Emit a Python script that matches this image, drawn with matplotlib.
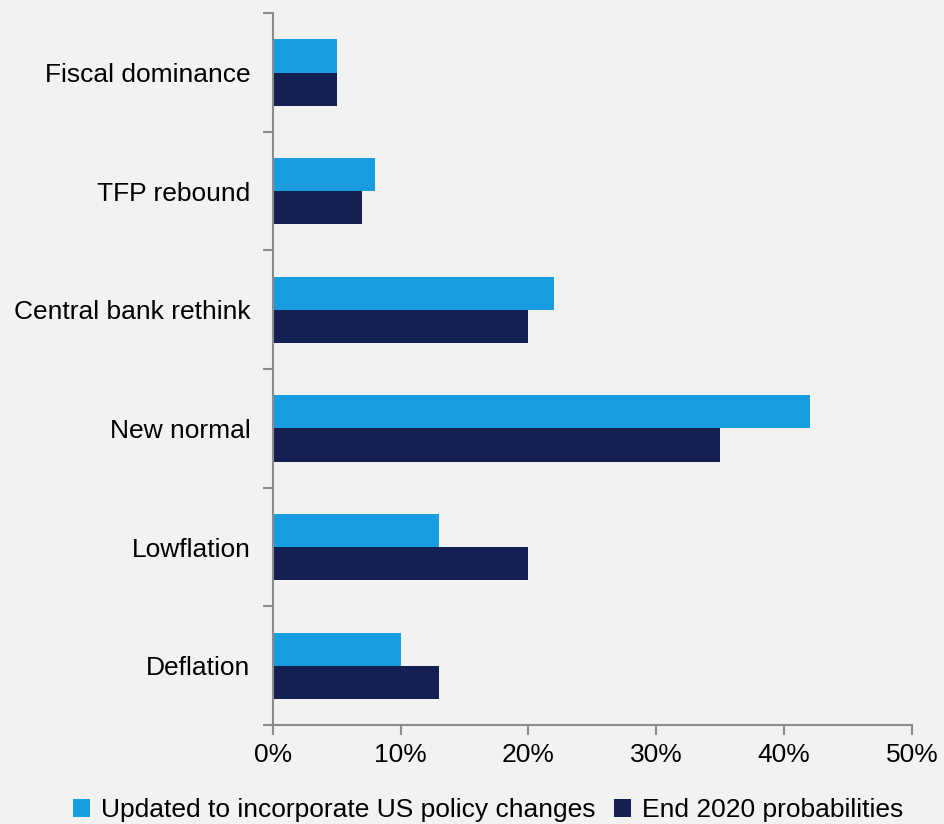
import numpy as np
import matplotlib.pyplot as plt

plt.rcParams['font.family'] = ['Liberation Sans', 'DejaVu Sans']

categories = ["Fiscal dominance", "TFP rebound", "Central bank rethink",
              "New normal", "Lowflation", "Deflation"]
updated = [5, 8, 22, 42, 13, 10]
end_2020 = [5, 7, 20, 35, 20, 13]
xticks = [0, 10, 20, 30, 40, 50]

c_light = "#1a9de0"
c_dark = "#141f52"
bg = "#f2f2f2"
spine_c = "#8c8c8c"

fig = plt.figure(figsize=(9.44, 8.24), dpi=100, facecolor=bg)
ax = fig.add_axes([0.289, 0.120, 0.677, 0.864], facecolor=bg)

n = len(categories)
y = np.arange(n)[::-1]
h = 0.28
ax.barh(y + h / 2, updated, height=h, color=c_light,
        label="Updated to incorporate US policy changes")
ax.barh(y - h / 2, end_2020, height=h, color=c_dark,
        label="End 2020 probabilities")

ax.set_xlim(0, 50)
ax.set_ylim(-0.5, n - 0.5)
ax.set_xticks(xticks)
ax.set_xticklabels([f"{v}%" for v in xticks])
ax.set_yticks(y)
ax.set_yticklabels(categories)
ax.set_yticks(np.arange(n + 1) - 0.5, minor=True)
ax.tick_params(axis='y', which='major', length=0, pad=16, labelsize=19)
ax.tick_params(axis='y', which='minor', length=7, width=1.5, color=spine_c)
ax.tick_params(axis='x', length=7, width=1.5, color=spine_c, labelsize=19, pad=6)

for s in ['top', 'right']:
    ax.spines[s].set_visible(False)
for s in ['left', 'bottom']:
    ax.spines[s].set_color(spine_c)
    ax.spines[s].set_linewidth(1.5)

leg = fig.legend(loc='lower center', bbox_to_anchor=(0.517, -0.027), ncol=2,
                 frameon=False, fontsize=19, handlelength=0.65, handleheight=0.65,
                 handletextpad=0.4, columnspacing=0.7)

fig.savefig("out.png", dpi=100, facecolor=bg)
